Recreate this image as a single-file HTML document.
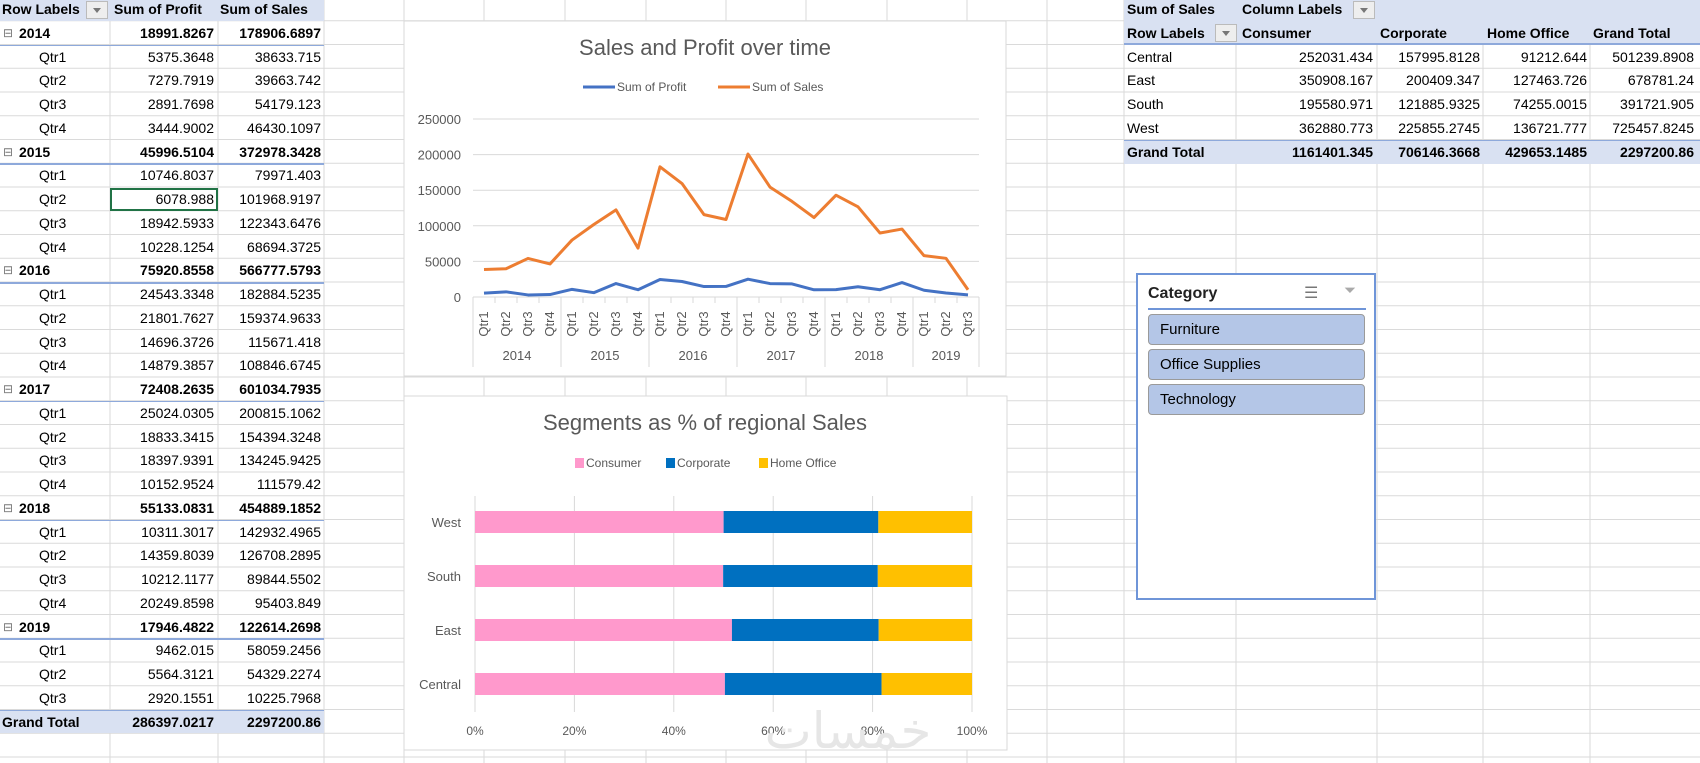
<!DOCTYPE html>
<html><head><meta charset="utf-8"><style>
html,body{margin:0;padding:0;width:1700px;height:763px;overflow:hidden;background:#fff;font-family:"Liberation Sans",Arial,sans-serif;}
.abs{position:absolute;}
.c{position:absolute;font-size:14px;color:#000;white-space:nowrap;line-height:23px;}
.r{text-align:right;}
.b{font-weight:bold;}
</style></head><body>
<svg id="grid" class="abs" style="left:0;top:0" width="1700" height="763"></svg>
<div id="sheet" class="abs" style="left:0;top:0;width:1700px;height:763px"></div>
<svg id="chart1" class="abs" style="left:0;top:0" width="1700" height="763"></svg>
<div class="abs" style="left:1136px;top:273px;width:240px;height:327px;border:2px solid #6F95D8;background:#fff;box-sizing:border-box">
 <div class="abs" style="left:10px;top:10px;font-size:16px;font-weight:bold;color:#222">Category</div>
 <div class="abs" style="left:166px;top:8px;font-size:16px;color:#777">☰</div>
 <div class="abs" style="left:206px;top:7px;font-size:15px;color:#aaa">⏷</div>
 <div class="abs" style="left:10px;top:33px;width:218px;height:2px;background:#6F95D8"></div>
 <div class="abs" style="left:10px;top:39px;width:217px;height:31px;background:#B4C6E7;border:1px solid #9a9a9a;border-radius:4px;font-size:15px;line-height:29px;padding-left:11px;box-sizing:border-box">Furniture</div>
 <div class="abs" style="left:10px;top:74px;width:217px;height:31px;background:#B4C6E7;border:1px solid #9a9a9a;border-radius:4px;font-size:15px;line-height:29px;padding-left:11px;box-sizing:border-box">Office Supplies</div>
 <div class="abs" style="left:10px;top:109px;width:217px;height:31px;background:#B4C6E7;border:1px solid #9a9a9a;border-radius:4px;font-size:15px;line-height:29px;padding-left:11px;box-sizing:border-box">Technology</div>
</div>
<script>
// ===== chart data =====
const years = ["2014","2015","2016","2017","2018","2019"];
const quarterCounts = [4,4,4,4,4,3];
const salesValues = [38633.715,39663.742,54179.123,46430.1097,79971.403,101968.9197,122343.6476,68694.3725,182884.5235,159374.9633,115671.418,108846.6745,200815.1062,154394.3248,134245.9425,111579.42,142932.4965,126708.2895,89844.5502,95403.849,58059.2456,54329.2274,10225.7968];
const profitValues = [5375.3648,7279.7919,2891.7698,3444.9002,10746.8037,6078.988,18942.5933,10228.1254,24543.3348,21801.7627,14696.3726,14879.3857,25024.0305,18833.3415,18397.9391,10152.9524,10311.3017,14359.8039,10212.1177,20249.8598,9462.015,5564.3121,2920.1551];
const yearProfit = ["18991.8267","45996.5104","75920.8558","72408.2635","55133.0831","17946.4822"];
const yearSales = ["178906.6897","372978.3428","566777.5793","601034.7935","454889.1852","122614.2698"];
const yTicks = [0,50000,100000,150000,200000,250000];
const regions = ["Central","East","South","West"];
const consumer = [252031.434,350908.167,195580.971,362880.773];
const corporate = [157995.8128,200409.347,121885.9325,225855.2745];
const homeOffice = [91212.644,127463.726,74255.0015,136721.777];
const xPctTicks = [0,20,40,60,80,100];

const NS="http://www.w3.org/2000/svg";
function sv(parent,tag,attrs,text){const e=document.createElementNS(NS,tag);for(const k in attrs)e.setAttribute(k,attrs[k]);if(text!==undefined)e.textContent=text;parent.appendChild(e);return e;}

// ===== grid =====
const grid=document.getElementById('grid');
const RH=23.75, R0=-3;
const colLines=[110,218,324,404,484,565,646,726,806,887,967,1047,1124,1236,1377,1483,1590];
for(let i=0;i<34;i++){const y=R0+RH*i;sv(grid,'line',{x1:0,x2:1700,y1:y,y2:y,stroke:'#dadada','stroke-width':1});}
colLines.forEach(x=>sv(grid,'line',{x1:x,x2:x,y1:0,y2:763,stroke:'#dadada','stroke-width':1}));

// ===== left pivot =====
const sheet=document.getElementById('sheet');
function cell(txt,x,y,w,cls){const d=document.createElement('div');d.className='c '+(cls||'');d.style.left=x+'px';d.style.top=y+'px';if(w)d.style.width=w+'px';d.textContent=txt;sheet.appendChild(d);return d;}
function band(x,y,w,h,bg){const d=document.createElement('div');d.className='abs';d.style.cssText=`left:${x}px;top:${y}px;width:${w}px;height:${h}px;background:${bg}`;sheet.appendChild(d);return d;}
function ddBtn(x,y,w){const d=band(x,y,w,18,'#eee');d.style.border='1px solid #bbb';d.style.boxSizing='border-box';d.innerHTML='<div style="margin:6px auto 0;width:0;height:0;border-left:4px solid transparent;border-right:4px solid transparent;border-top:5px solid #777"></div>';return d;}
function rowY(i){return R0+RH*i;}
const hb=band(0,0,324,20.7,'#D9E1F2');


cell('Row Labels',2,-2,null,'b');
const dd=ddBtn(86,1,22);


cell('Sum of Profit',114,-2,null,'b');
cell('Sum of Sales',220,-2,null,'b');
let r=1,qi=0;
years.forEach((yr,k)=>{
  const y=rowY(r)+1;
  const yl=cell('⊟',3,y,null);yl.style.color='#777';yl.style.fontSize='12px';
  cell(yr,19,y,null,'b');
  cell(yearProfit[k],110,y,104,'r b');
  cell(yearSales[k],218,y,103,'r b');
  const ln=band(0,rowY(r+1),324,1.5,'#8EA9DB');
  
  
  r++;
  for(let q=0;q<quarterCounts[k];q++){
    const yy=rowY(r)+1;
    cell('Qtr'+(q+1),39,yy,null);
    cell(profitValues[qi].toFixed(4).replace(/0+$/,'').replace(/\.$/,''),110,yy,104,'r');
    cell(salesValues[qi].toFixed(4).replace(/0+$/,'').replace(/\.$/,''),218,yy,103,'r');
    r++;qi++;
  }
});
const gb=band(0,rowY(r),324,RH,'#D9E1F2');


band(0,rowY(r),324,1.5,'#8EA9DB');
cell('Grand Total',2,rowY(r)+1,null,'b');
cell('286397.0217',110,rowY(r)+1,104,'r b');
cell('2297200.86',218,rowY(r)+1,103,'r b');
const sel=band(110,rowY(8)+1,108,RH-1,'transparent');sel.style.border='2px solid #217346';sel.style.boxSizing='border-box';



// ===== right pivot =====
const rb=band(1124,0,576,44,'#D9E1F2');


band(1124,43,576,1.5,'#8EA9DB');
cell('Sum of Sales',1127,-2,null,'b');
cell('Column Labels',1242,-2,null,'b');
const dd2=ddBtn(1353,1,22);


cell('Row Labels',1127,rowY(1)+1,null,'b');
const dd3=ddBtn(1215,rowY(1)+3,22);


cell('Consumer',1242,rowY(1)+1,null,'b');
cell('Corporate',1380,rowY(1)+1,null,'b');
cell('Home Office',1487,rowY(1)+1,null,'b');
cell('Grand Total',1593,rowY(1)+1,null,'b');
const rightRows=[["Central","252031.434","157995.8128","91212.644","501239.8908"],["East","350908.167","200409.347","127463.726","678781.24"],["South","195580.971","121885.9325","74255.0015","391721.905"],["West","362880.773","225855.2745","136721.777","725457.8245"]];
rightRows.forEach((row,i)=>{const y=rowY(2+i)+1;cell(row[0],1127,y);cell(row[1],1236,y,137,'r');cell(row[2],1377,y,103,'r');cell(row[3],1483,y,104,'r');cell(row[4],1590,y,104,'r');});
const rg=band(1124,rowY(6),576,RH+0.5,'#D9E1F2');


band(1124,rowY(6),576,1.5,'#8EA9DB');
const gy=rowY(6)+1;
cell('Grand Total',1127,gy,null,'b');cell('1161401.345',1236,gy,137,'r b');cell('706146.3668',1377,gy,103,'r b');cell('429653.1485',1483,gy,104,'r b');cell('2297200.86',1590,gy,104,'r b');

// ===== chart 1 =====
const c1=document.getElementById('chart1');
sv(c1,'rect',{x:404,y:21,width:602,height:355,fill:'#fff',stroke:'#d9d9d9'});
const t1=sv(c1,'text',{x:705,y:55,'text-anchor':'middle','font-size':22,fill:'#595959'},'Sales and Profit over time');


const X0=473,X1=979,Y0=297,YT=119,YMAX=250000;
const n=salesValues.length, cw=(X1-X0)/n;
const xS=i=>X0+(i+0.5)*cw;
const yS=v=>Y0-v/YMAX*(Y0-YT);
yTicks.forEach(t=>{
  if(t>0){const gl=sv(c1,'line',{x1:X0,x2:X1,y1:yS(t),y2:yS(t),stroke:'#d9d9d9'});
  
  }
  const tl=sv(c1,'text',{x:461,y:yS(t)+5,'text-anchor':'end','font-size':13,fill:'#595959'},String(t));
  
  
});
sv(c1,'line',{x1:X0,x2:X1,y1:Y0,y2:Y0,stroke:'#d9d9d9'});
let idx=0;
sv(c1,'line',{x1:X0,x2:X0,y1:Y0,y2:367,stroke:'#d9d9d9'});
years.forEach((yr,k)=>{
  const start=idx;
  for(let q=0;q<quarterCounts[k];q++){
    const cx=xS(idx);
    const ql=sv(c1,'text',{x:0,y:0,'text-anchor':'middle','font-size':13,fill:'#595959',transform:`translate(${cx+4},324) rotate(-90)`},'Qtr'+(q+1));
    
    
    if(q<quarterCounts[k]-1) sv(c1,'line',{x1:cx+cw/2,x2:cx+cw/2,y1:Y0,y2:303,stroke:'#d9d9d9'});
    idx++;
  }
  const endX=X0+idx*cw;
  sv(c1,'line',{x1:endX,x2:endX,y1:Y0,y2:367,stroke:'#d9d9d9'});
  const yl=sv(c1,'text',{x:(X0+start*cw+endX)/2,y:360,'text-anchor':'middle','font-size':13,fill:'#595959'},yr);
  
  
});
const pP=profitValues.map((v,i)=>xS(i)+','+yS(v)).join(' ');
const sP=salesValues.map((v,i)=>xS(i)+','+yS(v)).join(' ');
const lp=sv(c1,'polyline',{points:pP,fill:'none',stroke:'#4472C4','stroke-width':3,'stroke-linejoin':'round'});


const ls=sv(c1,'polyline',{points:sP,fill:'none',stroke:'#ED7D31','stroke-width':3,'stroke-linejoin':'round'});


const lg1=sv(c1,'g',{});


sv(lg1,'line',{x1:583,x2:615,y1:87,y2:87,stroke:'#4472C4','stroke-width':3});
sv(lg1,'text',{x:617,y:91,'font-size':12,fill:'#595959'},'Sum of Profit');
sv(lg1,'line',{x1:718,x2:750,y1:87,y2:87,stroke:'#ED7D31','stroke-width':3});
sv(lg1,'text',{x:752,y:91,'font-size':12,fill:'#595959'},'Sum of Sales');

// ===== chart 2 =====
sv(c1,'rect',{x:404,y:396,width:603,height:354,fill:'#fff',stroke:'#d9d9d9'});
const t2=sv(c1,'text',{x:705,y:430,'text-anchor':'middle','font-size':22,fill:'#595959'},'Segments as % of regional Sales');


const PX0=475,PX1=972;
const pS=p=>PX0+p/100*(PX1-PX0);
xPctTicks.forEach(t=>{
  const gl=sv(c1,'line',{x1:pS(t),x2:pS(t),y1:496,y2:712,stroke:'#d9d9d9'});
  
  
  const tl=sv(c1,'text',{x:pS(t),y:735,'text-anchor':'middle','font-size':12,fill:'#595959'},t+'%');
  
  
});
const wm=sv(c1,'text',{x:848,y:748,'text-anchor':'middle','font-size':50,fill:'#e6e6e6','font-family':'DejaVu Sans, sans-serif'},'خمسات');


const bandH=54, topC=684, bh=22;
const segColors=['#FF99CC','#0070C0','#FFC000'];
const segNames=['consumer','corporate','home-office'];
regions.forEach((reg,i)=>{
  const cy=topC-i*bandH;
  const vals=[consumer[i],corporate[i],homeOffice[i]];
  const tot=vals[0]+vals[1]+vals[2];
  let acc=0;
  vals.forEach((v,j)=>{
    const p=v/tot*100;
    const bar=sv(c1,'rect',{x:pS(acc),y:cy-bh/2,width:pS(acc+p)-pS(acc),height:bh,fill:segColors[j]});
    
    
    acc+=p;
  });
  const rl=sv(c1,'text',{x:461,y:cy+5,'text-anchor':'end','font-size':13,fill:'#595959'},reg);
  
  
});
const lg2=sv(c1,'g',{});


[[575,'Consumer'],[666,'Corporate'],[759,'Home Office']].forEach((e,j)=>{
  sv(lg2,'rect',{x:e[0],y:458,width:9,height:10,fill:segColors[j]});
  sv(lg2,'text',{x:e[0]+11,y:467,'font-size':12,fill:'#595959'},e[1]);
});
</script>
</body></html>
